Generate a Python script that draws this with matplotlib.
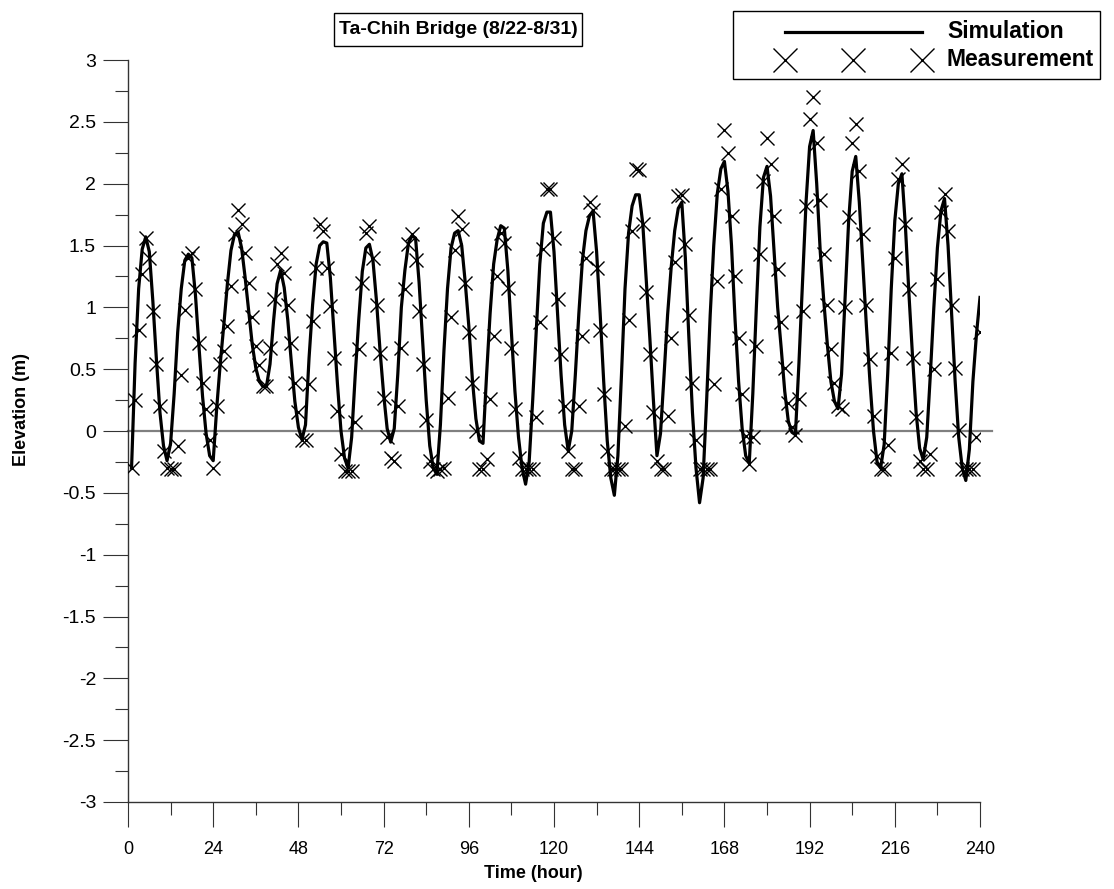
import matplotlib
matplotlib.use("Agg")
import matplotlib.pyplot as plt
from matplotlib.lines import Line2D
from matplotlib.patches import Rectangle
from matplotlib.ticker import MultipleLocator

plt.rcParams['font.family'] = ['Liberation Sans', 'DejaVu Sans']

# hourly time axis (hours after 8/22 00:00)
hours = list(range(1, 241))

# simulated water surface elevation (m)
simulation = [
    -0.30, 0.55, 1.15, 1.47, 1.57, 1.45, 1.05, 0.58, 0.15, -0.12,
    -0.24, -0.10, 0.30, 0.80, 1.15, 1.38, 1.43, 1.40, 1.10, 0.68,
    0.28, -0.02, -0.20, -0.24, 0.19, 0.55, 0.86, 1.19, 1.46, 1.59,
    1.61, 1.48, 1.24, 0.97, 0.70, 0.51, 0.40, 0.36, 0.36, 0.54,
    0.89, 1.19, 1.30, 1.16, 0.90, 0.56, 0.24, 0.03, -0.07, 0.05,
    0.59, 1.02, 1.35, 1.50, 1.53, 1.52, 1.24, 0.81, 0.38, 0.00,
    -0.22, -0.30, -0.05, 0.45, 0.90, 1.29, 1.48, 1.51, 1.38, 1.05,
    0.65, 0.30, 0.02, -0.09, 0.02, 0.46, 1.00, 1.30, 1.52, 1.58,
    1.56, 1.20, 0.72, 0.25, -0.12, -0.30, -0.35, 0.05, 0.65, 1.15,
    1.48, 1.60, 1.62, 1.50, 1.20, 0.85, 0.42, 0.10, -0.08, -0.10,
    0.45, 0.95, 1.35, 1.55, 1.66, 1.64, 1.30, 0.80, 0.32, -0.05,
    -0.30, -0.43, -0.25, 0.25, 0.81, 1.35, 1.68, 1.77, 1.77, 1.45,
    0.95, 0.45, 0.05, -0.16, 0.00, 0.45, 0.95, 1.38, 1.62, 1.74,
    1.78, 1.45, 0.95, 0.40, -0.08, -0.38, -0.52, -0.20, 0.45, 1.15,
    1.60, 1.82, 1.91, 1.91, 1.68, 1.21, 0.75, 0.25, -0.20, -0.02,
    0.45, 0.94, 1.32, 1.62, 1.80, 1.85, 1.40, 0.75, 0.15, -0.30,
    -0.58, -0.38, 0.25, 0.94, 1.50, 1.92, 2.12, 2.18, 1.94, 1.50,
    0.90, 0.40, 0.02, -0.20, -0.26, 0.30, 1.00, 1.65, 2.05, 2.14,
    1.90, 1.45, 1.00, 0.67, 0.32, 0.08, -0.01, -0.03, 0.55, 1.20,
    1.85, 2.30, 2.43, 2.00, 1.45, 1.05, 0.70, 0.40, 0.24, 0.18,
    0.46, 1.08, 1.70, 2.10, 2.22, 1.85, 1.35, 0.85, 0.40, 0.00,
    -0.25, -0.30, -0.11, 0.46, 1.15, 1.70, 2.00, 2.08, 1.65, 1.10,
    0.60, 0.15, -0.14, -0.23, -0.05, 0.45, 1.00, 1.48, 1.78, 1.88,
    1.50, 0.95, 0.40, -0.05, -0.30, -0.40, -0.15, 0.40, 0.78, 1.08,
]

# measured water surface elevation (m)
measurement = [
    -0.30, 0.25, 0.82, 1.27, 1.56, 1.40, 0.97, 0.54, 0.20, -0.16,
    -0.30, -0.31, -0.31, -0.12, 0.45, 0.98, 1.40, 1.44, 1.15, 0.71,
    0.39, 0.18, -0.07, -0.30, 0.20, 0.54, 0.65, 0.85, 1.17, 1.59,
    1.79, 1.67, 1.44, 1.20, 0.92, 0.69, 0.53, 0.36, 0.36, 0.67,
    1.07, 1.35, 1.44, 1.28, 1.02, 0.71, 0.39, 0.15, -0.07, -0.07,
    0.38, 0.89, 1.32, 1.67, 1.62, 1.32, 1.01, 0.59, 0.16, -0.19,
    -0.32, -0.32, -0.32, 0.07, 0.66, 1.20, 1.60, 1.66, 1.40, 1.02,
    0.63, 0.27, -0.05, -0.22, -0.24, 0.20, 0.67, 1.15, 1.51, 1.59,
    1.38, 0.97, 0.54, 0.09, -0.24, -0.31, -0.32, -0.31, -0.30, 0.27,
    0.92, 1.46, 1.74, 1.63, 1.20, 0.80, 0.39, 0.00, -0.31, -0.31,
    -0.23, 0.26, 0.77, 1.25, 1.60, 1.52, 1.16, 0.67, 0.18, -0.22,
    -0.31, -0.31, -0.31, -0.31, 0.11, 0.88, 1.47, 1.96, 1.96, 1.56,
    1.07, 0.62, 0.20, -0.16, -0.31, -0.31, 0.20, 0.77, 1.40, 1.85,
    1.79, 1.32, 0.82, 0.30, -0.16, -0.31, -0.31, -0.31, -0.31, 0.04,
    0.90, 1.62, 2.12, 2.11, 1.67, 1.12, 0.62, 0.15, -0.24, -0.31,
    -0.31, 0.12, 0.75, 1.37, 1.90, 1.91, 1.51, 0.94, 0.39, -0.07,
    -0.31, -0.31, -0.31, -0.31, 0.38, 1.21, 1.96, 2.43, 2.25, 1.74,
    1.25, 0.75, 0.30, -0.04, -0.27, -0.05, 0.69, 1.43, 2.02, 2.37,
    2.16, 1.74, 1.31, 0.88, 0.51, 0.23, 0.03, -0.03, 0.26, 0.97,
    1.82, 2.52, 2.70, 2.33, 1.87, 1.43, 1.02, 0.66, 0.39, 0.20,
    0.18, 1.00, 1.73, 2.33, 2.48, 2.10, 1.59, 1.02, 0.58, 0.12,
    -0.20, -0.31, -0.31, -0.11, 0.63, 1.40, 2.04, 2.16, 1.67, 1.15,
    0.59, 0.11, -0.24, -0.31, -0.31, -0.19, 0.50, 1.23, 1.77, 1.92,
    1.62, 1.02, 0.51, 0.01, -0.31, -0.31, -0.31, -0.31, -0.05, 0.80,
]

x_ticks = list(range(0, 241, 24))
y_ticks = [-3, -2.5, -2, -1.5, -1, -0.5, 0, 0.5, 1, 1.5, 2, 2.5, 3]
y_tick_labels = ['-3', '-2.5', '-2', '-1.5', '-1', '-0.5', '0',
                 '0.5', '1', '1.5', '2', '2.5', '3']

W, H = 1114, 889
fig = plt.figure(figsize=(W / 100, H / 100), dpi=100)
ax = fig.add_axes([128 / W, 1 - 802 / H, 852 / W, 742 / H])

# zero reference line
ax.plot([0, 243.5], [0, 0], color='#808080', lw=1.6, zorder=1, clip_on=False)

ax.plot(hours, simulation, color='black', lw=2.3, zorder=3,
        solid_joinstyle='round')
ax.plot(hours, measurement, ls='none', marker='x', ms=9.5, mew=1.0,
        color='black', zorder=4)

ax.set_xlim(0, 240)
ax.set_ylim(-3, 3)

for side in ('top', 'right'):
    ax.spines[side].set_visible(False)
for side in ('left', 'bottom'):
    ax.spines[side].set_color('#333333')
    ax.spines[side].set_linewidth(1.0)

ax.set_xticks(x_ticks)
ax.xaxis.set_minor_locator(MultipleLocator(12))
ax.set_yticks(y_ticks)
ax.set_yticklabels(y_tick_labels)
ax.yaxis.set_minor_locator(MultipleLocator(0.25))

ax.tick_params(axis='both', which='major', direction='out', length=18,
               width=0.8, color='#333333')
ax.tick_params(axis='both', which='minor', direction='out', length=9.5,
               width=0.8, color='#333333')
ax.tick_params(axis='y', which='major', labelsize=14, pad=5)
ax.tick_params(axis='x', which='major', labelsize=13, pad=10)

fig.text(22 / W, 1 - 410 / H, 'Elevation (m)', rotation=90, ha='center',
         va='center', fontsize=13, fontweight='bold')
fig.text(533 / W, 1 - 873 / H, 'Time (hour)', ha='center', va='center',
         fontsize=13, fontweight='bold')

# title in a framed box
fig.patches.append(Rectangle((334 / W, 1 - 46 / H), 248 / W, 33 / H,
                             transform=fig.transFigure, fill=False,
                             ec='black', lw=1.0))
fig.text(458 / W, 1 - 30 / H, 'Ta-Chih Bridge (8/22-8/31)', ha='center',
         va='center', fontsize=14, fontweight='bold')

# legend drawn in figure coordinates
fig.patches.append(Rectangle((733 / W, 1 - 79 / H), 367 / W, 68 / H,
                             transform=fig.transFigure, fill=False,
                             ec='black', lw=1.0))
fig.lines.append(Line2D([785 / W, 922 / W], [1 - 32 / H, 1 - 32 / H],
                        transform=fig.transFigure, color='black', lw=2.3))
fig.lines.append(Line2D([785 / W, 853 / W, 922 / W], [1 - 60 / H] * 3,
                        transform=fig.transFigure, ls='none', marker='x',
                        ms=17, mew=1.0, color='black'))
fig.text(947 / W, 1 - 32 / H, 'Simulation', ha='left', va='center',
         fontsize=16.5, fontweight='bold')
fig.text(947 / W, 1 - 60 / H, 'Measurement', ha='left', va='center',
         fontsize=16.5, fontweight='bold')

fig.savefig('out.png', dpi=100)
